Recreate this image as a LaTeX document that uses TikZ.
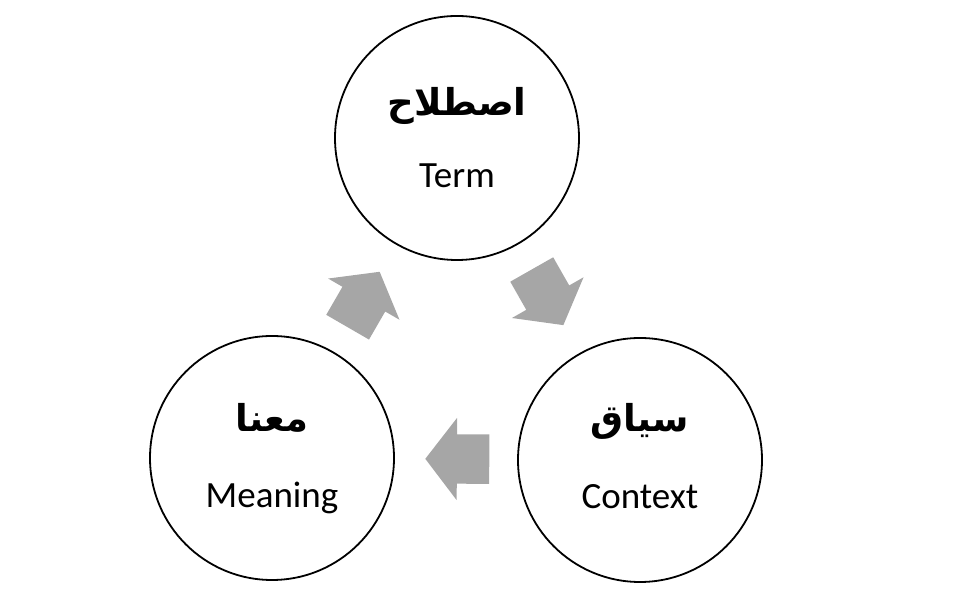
\documentclass[tikz,border=0pt]{standalone}
\usepackage{fontspec}
\setmainfont{Carlito}
\newfontfamily\arabicfont[Script=Arabic]{DejaVu Sans}
\TeXXeTstate=1
\usetikzlibrary{shapes.arrows}
\definecolor{flowgray}{RGB}{166,166,166}
\tikzset{
  ring/.style={circle, draw, line width=1.8pt, minimum size=244pt, inner sep=0pt},
  arab/.style={font=\arabicfont\bfseries\fontsize{37}{44}\selectfont, anchor=base},
  eng/.style={font=\fontsize{37}{44}\selectfont, anchor=base},
  flow/.style={single arrow, fill=flowgray, draw=none, minimum height=64pt,
    inner xsep=0pt, inner ysep=24.5pt, single arrow head extend=16.5pt,
    single arrow tip angle=105, sloped, allow upside down, anchor=tail, pos=0.226}
}
\begin{document}
\begin{tikzpicture}[x=1pt, y=1pt]
  \useasboundingbox (0,0) rectangle (978,602);
  \node (term) [ring] at (457,464) {};
  \node (meaning) [ring] at (272,144) {};
  \node (context) [ring] at (640,142) {};
  \node (termar) [arab] at ([yshift=22pt]term.center) {\beginR اصطلاح\endR};
  \node (termen) [eng] at ([yshift=-50pt]term.center) {Term};
  \node (meaningar) [arab] at ([yshift=26pt]meaning.center) {\beginR معنا\endR};
  \node (meaningen) [eng] at ([yshift=-50pt]meaning.center) {Meaning};
  \node (contextar) [arab] at ([yshift=28pt]context.center) {\beginR سياق\endR};
  \node (contexten) [eng] at ([yshift=-49pt]context.center) {Context};
  \path (meaning) -- node (up) [flow] {} (term);
  \path (term) -- node (down) [flow] {} (context);
  \path (context) -- node (back) [flow] {} (meaning);
\end{tikzpicture}
\end{document}
